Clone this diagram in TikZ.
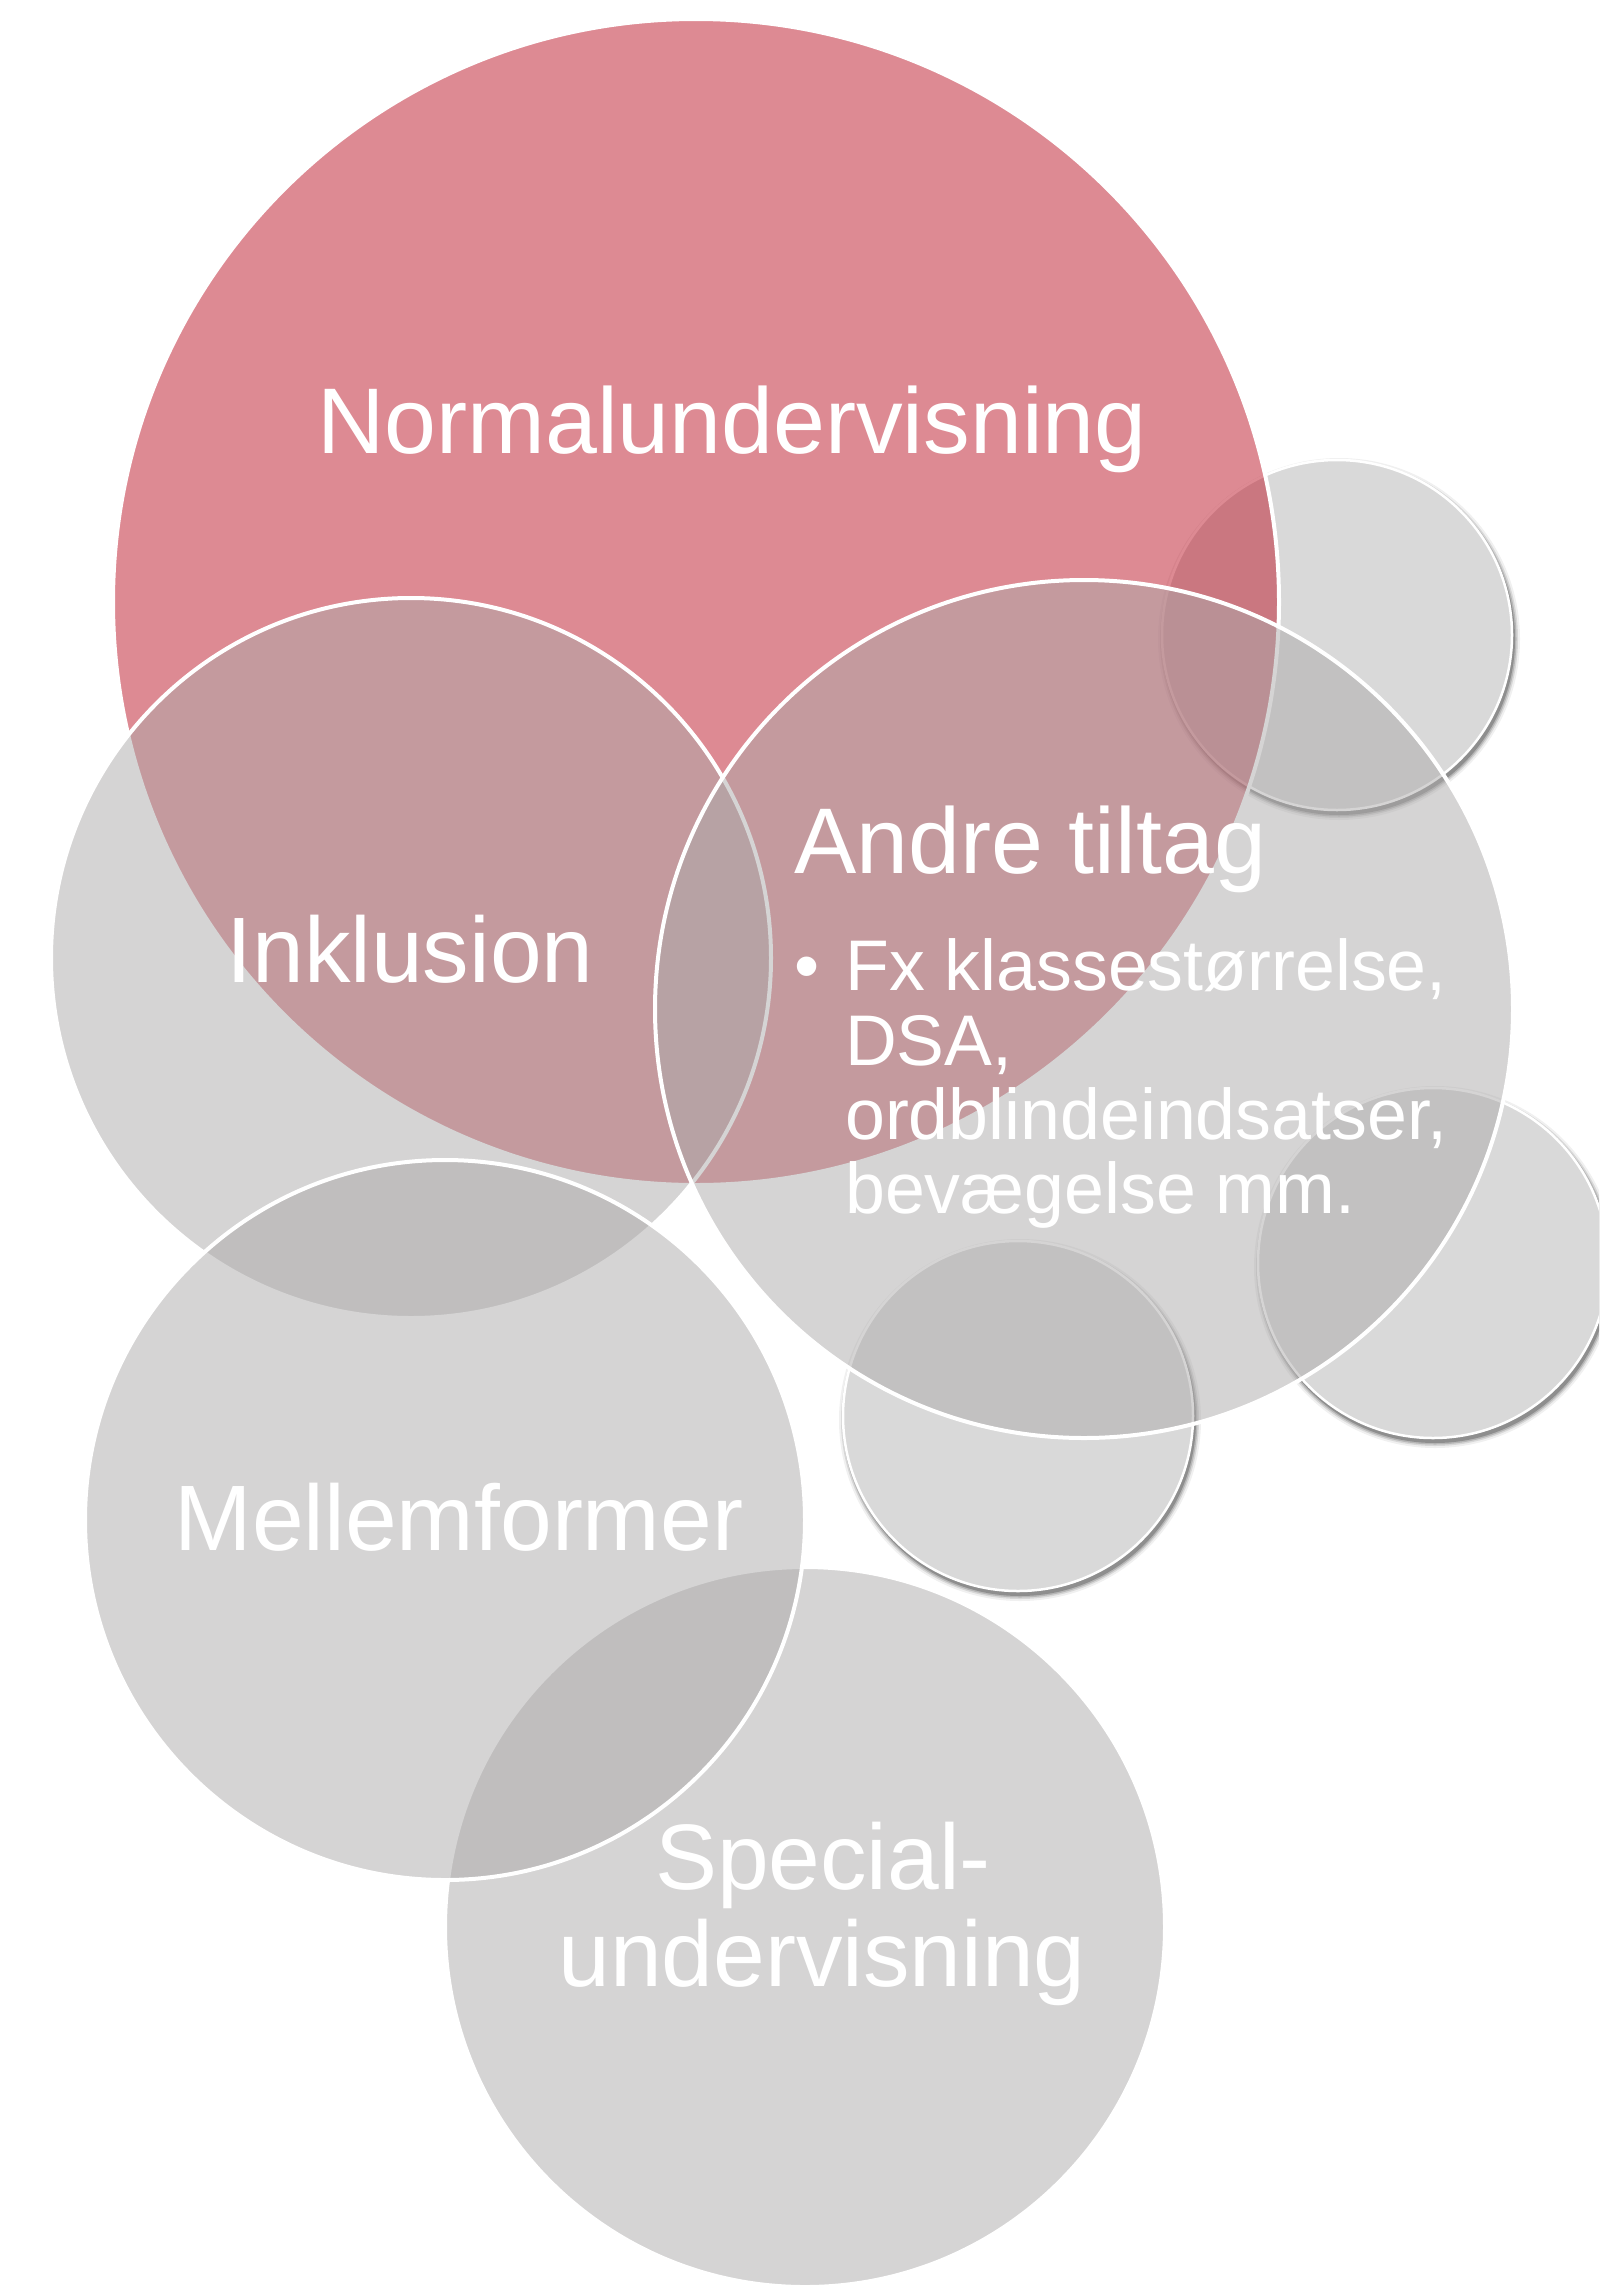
\documentclass[tikz,border=0pt]{standalone}
\usepackage{fontspec}
\setmainfont{Liberation Sans}
\definecolor{pinkc}{RGB}{189,23,41}
\definecolor{greyc}{RGB}{172,170,170}
\definecolor{smallc}{RGB}{217,217,217}
\tikzset{
  bigcirc/.style={fill=greyc, fill opacity=0.5, draw=white, draw opacity=1, line width=4pt},
  pinkcirc/.style={fill=pinkc, fill opacity=0.5, draw=white, draw opacity=1, line width=4pt},
  smallcirc/.style={fill=smallc, draw=white, line width=2.5pt},
  lbl/.style={text=white, inner sep=0pt, anchor=base, font=\fontsize{93}{110}\selectfont},
  sublbl/.style={text=white, inner sep=0pt, anchor=base west, font=\fontsize{71.7}{80}\selectfont},
}
\begin{document}
\begin{tikzpicture}[x=1pt,y=-1pt]
\useasboundingbox (0,0) rectangle (1599,2286);
\clip (0,0) rectangle (1599,2286);
\fill[white] (0,0) rectangle (1599,2286);
% small circles with drop shadows (lowest layer)
\foreach \cx/\cy in {1337/635, 1433/1263, 1018/1416}{
  \fill[black, opacity=0.06] (\cx+2,\cy+4) circle[radius=181];
  \fill[black, opacity=0.10] (\cx+2,\cy+4) circle[radius=179];
  \fill[black, opacity=0.15] (\cx+2,\cy+4) circle[radius=177.5];
  \fill[black, opacity=0.22] (\cx+2,\cy+4) circle[radius=176];
  \path[smallcirc] (\cx,\cy) circle[radius=175];
}
% Specialundervisning
\path[bigcirc] (805,1927) circle[radius=360];
% Normalundervisning
\path[pinkcirc] (696,602) circle[radius=583];
% Inklusion
\path[bigcirc] (411,958) circle[radius=360];
% Mellemformer
\path[bigcirc] (445,1520) circle[radius=360];
% Andre tiltag
\path[bigcirc] (1084,1009) circle[radius=429];
% texts
\node[lbl, font=\fontsize{93.3}{110}\selectfont] (normal) at (732,453) {Normalundervisning};
\node[lbl] (inkl) at (410,982) {Inklusion};
\node[lbl, anchor=base west, font=\fontsize{93.3}{110}\selectfont] (andre) at (794,873) {Andre tiltag};
\node[sublbl, anchor=base] (bullet) at (807,990) {•};
\node[sublbl] (l1) at (845,990) {Fx klassestørrelse,};
\node[sublbl] (l2) at (845,1065) {DSA,};
\node[sublbl] (l3) at (845,1139) {ordblindeindsatser,};
\node[sublbl] (l4) at (845,1213) {bevægelse mm.};
\node[lbl] (mellem) at (459,1550) {Mellemformer};
\node[lbl] (spec1) at (823,1889) {Special-};
\node[lbl] (spec2) at (822,1986) {undervisning};
\end{tikzpicture}
\end{document}
